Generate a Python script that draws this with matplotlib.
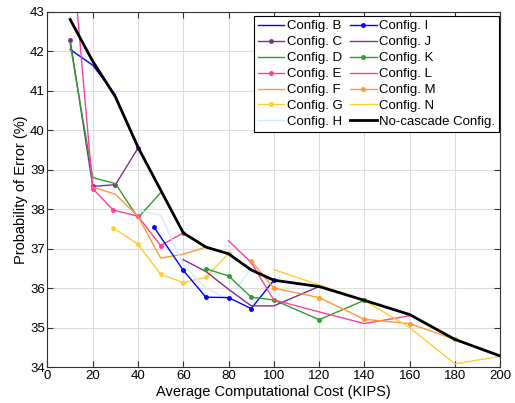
import numpy as np
import matplotlib
matplotlib.use('Agg')
from matplotlib import pyplot as plt

plt.rcParams['font.family'] = ['Liberation Sans', 'DejaVu Sans']

# data
b_x = [10, 20, 30]
b_y = [42.05, 41.65, 40.9]
c_x = [10, 20, 30, 40]
c_y = [42.3, 38.58, 38.62, 39.55]
d_x = [10, 20, 30, 40, 50]
d_y = [42.2, 38.8, 38.65, 37.78, 38.42]
e_x = [10, 20, 29, 40, 50, 60]
e_y = [45.1, 38.52, 37.98, 37.82, 37.08, 37.4]
f_x = [20, 30, 40, 50, 60, 70]
f_y = [38.56, 38.38, 37.82, 36.76, 36.86, 37.04]
g_x = [29, 40, 50, 60, 70, 80]
g_y = [37.53, 37.11, 36.35, 36.14, 36.27, 36.88]
h_x = [40, 50, 60, 70, 80, 90, 100]
h_y = [37.97, 37.85, 36.6, 36.0, 35.72, 36.5, 36.2]
i_x = [47, 60, 70, 80, 90, 100]
i_y = [37.55, 36.45, 35.77, 35.76, 35.48, 36.2]
j_x = [60, 70, 80, 90, 100, 120]
j_y = [36.72, 36.42, 35.97, 35.55, 35.55, 36.04]
k_x = [70, 80, 90, 100, 120, 140]
k_y = [36.49, 36.31, 35.77, 35.7, 35.2, 35.69]
l_x = [80, 90, 100, 120, 140, 160]
l_y = [37.2, 36.65, 35.7, 35.4, 35.1, 35.3]
m_x = [90, 100, 120, 140, 160, 180]
m_y = [36.69, 36.0, 35.76, 35.21, 35.1, 34.7]
n_x = [100, 140, 160, 180, 200]
n_y = [36.47, 35.69, 35.0, 34.08, 34.27]
nc_x = [10, 20, 30, 40, 60, 70, 80, 90, 100, 120, 140, 160, 180, 200]
nc_y = [42.81, 41.75, 40.85, 39.57, 37.4, 37.04, 36.87, 36.46, 36.2, 36.04, 35.69, 35.33, 34.7, 34.28]

blue = '#0000FF'
purple = '#7E2F8E'
green = '#2CA02C'
pink = '#FF3FA0'
orange = '#FF9933'
yellow = '#FFCC33'
lblue = '#D6EBFF'

fig = plt.figure(figsize=(5.15, 4.03), dpi=100)
ax = fig.add_axes([0.0922, 0.0893, 0.879, 0.881])

ms = 5
ax.plot(b_x, b_y, color=blue, lw=1, label='Config. B')
ax.plot(c_x, c_y, color=purple, lw=1, marker='.', ms=ms, label='Config. C')
ax.plot(d_x, d_y, color=green, lw=1, label='Config. D')
ax.plot(e_x, e_y, color=pink, lw=1, marker='.', ms=ms, label='Config. E')
ax.plot(f_x, f_y, color=orange, lw=1, label='Config. F')
ax.plot(g_x, g_y, color=yellow, lw=1, marker='.', ms=ms, label='Config. G')
ax.plot(h_x, h_y, color=lblue, lw=1, label='Config. H')
ax.plot(i_x, i_y, color=blue, lw=1, marker='.', ms=ms, label='Config. I')
ax.plot(j_x, j_y, color=purple, lw=1, label='Config. J')
ax.plot(k_x, k_y, color=green, lw=1, marker='.', ms=ms, label='Config. K')
ax.plot(l_x, l_y, color=pink, lw=1, label='Config. L')
ax.plot(m_x, m_y, color=orange, lw=1, marker='.', ms=ms, label='Config. M')
ax.plot(n_x, n_y, color=yellow, lw=1, label='Config. N')
ax.plot(nc_x, nc_y, color='black', lw=2, label='No-cascade Config.')

ax.set_xlim(0, 200); ax.set_ylim(34, 43)
ax.set_xticks(range(0, 201, 20)); ax.set_yticks(range(34, 44))
ax.grid(True, color='#DDDDDD', lw=0.8)
ax.set_axisbelow(True)
ax.tick_params(direction='in', top=True, right=True, labelsize=9.5, length=4, color='#333333', pad=2)
for s in ax.spines.values():
    s.set_color('#333333'); s.set_linewidth(0.8)
ax.set_xlabel('Average Computational Cost (KIPS)', fontsize=10.5, labelpad=2)
ax.set_ylabel('Probability of Error (%)', fontsize=10.5, labelpad=1)

leg = ax.legend(ncol=2, loc='upper right', bbox_to_anchor=(0.998, 0.988), fontsize=9.5,
                frameon=True, fancybox=False, edgecolor='black', framealpha=1,
                handlelength=2.0, handletextpad=0.2, columnspacing=0.6,
                labelspacing=0.28, borderpad=0.3, borderaxespad=0)
leg.get_frame().set_linewidth(0.8)

plt.savefig('out.png', dpi=100)
